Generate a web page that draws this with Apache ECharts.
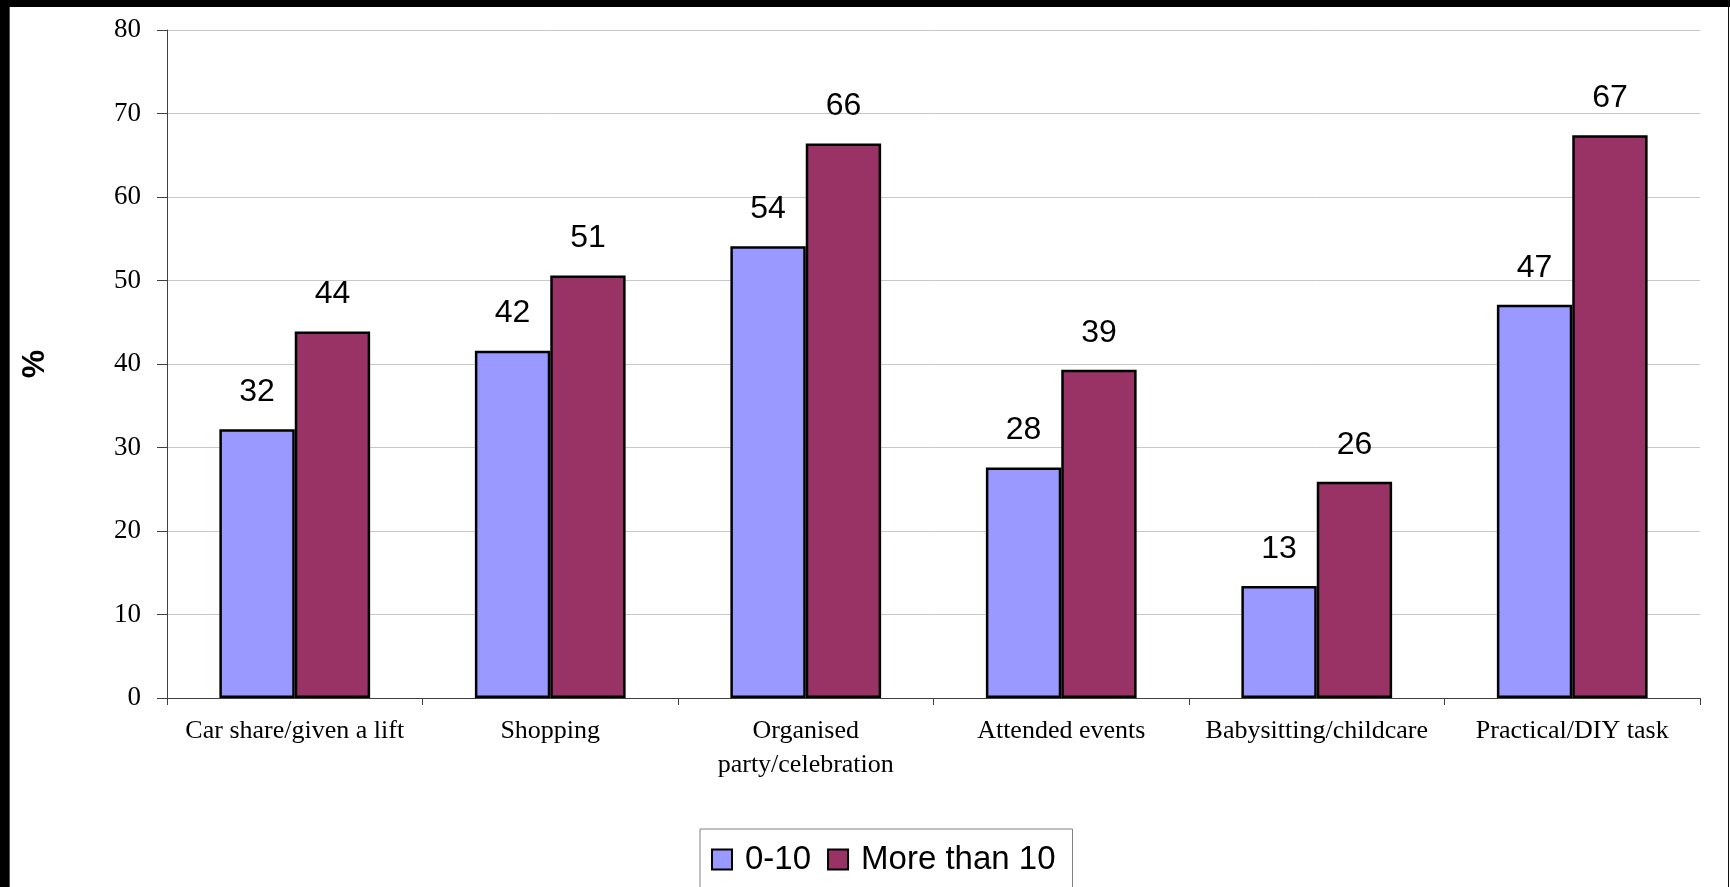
<!DOCTYPE html>
<html>
<head>
<meta charset="utf-8">
<script src="https://cdn.jsdelivr.net/npm/echarts@6/dist/echarts.min.js"></script>
<style>
  html, body { margin: 0; padding: 0; background: #ffffff; }
  #chart { position: absolute; left: 0; top: 0; width: 1730px; height: 887px; }
  .frame { position: absolute; pointer-events: none; }
</style>
</head>
<body>
<div id="chart"></div>
<div class="frame" style="left:0;top:0;width:9px;height:887px;background:#000;"></div>
<div class="frame" style="left:9px;top:0;width:1px;height:887px;background:#555;"></div>
<div class="frame" style="left:0;top:0;width:1730px;height:7px;background:#000;"></div>
<div class="frame" style="left:1728px;top:0;width:1px;height:887px;background:#111;"></div>
<script>
const categories = ['Car share/given a lift', 'Shopping', 'Organised party/celebration', 'Attended events', 'Babysitting/childcare', 'Practical/DIY task'];
const seriesNames = ['0-10', 'More than 10'];
const values0to10 = [32.2, 41.6, 54.1, 27.6, 13.4, 47.1];
const valuesMoreThan10 = [43.9, 50.6, 66.4, 39.3, 25.9, 67.4];
const yTicks = [0, 10, 20, 30, 40, 50, 60, 70, 80];

const chart = echarts.init(document.getElementById('chart'), null, { renderer: 'canvas' });

const labelStyle = {
  show: true,
  position: 'top',
  distance: 21,
  color: '#000',
  fontFamily: 'Liberation Sans, Arial, sans-serif',
  fontSize: 32,
  formatter: p => String(Math.round(p.value))
};

chart.setOption({
  backgroundColor: '#ffffff',
  animation: false,
  grid: { left: 167, right: 30, top: 30, bottom: 189, containLabel: false },
  legend: {
    data: seriesNames,
    left: 700,
    top: 829,
    orient: 'horizontal',
    padding: [14, 17, 40, 11],
    itemWidth: 20,
    itemHeight: 20,
    itemGap: 16,
    borderColor: '#808080',
    borderWidth: 1,
    icon: 'rect',
    textStyle: {
      fontFamily: 'Liberation Sans, Arial, sans-serif',
      fontSize: 33,
      color: '#000',
      padding: [0, 0, 0, 8]
    }
  },
  xAxis: {
    type: 'category',
    data: categories,
    axisLine: { show: true, lineStyle: { color: '#404040', width: 1 } },
    axisTick: { show: true, length: 7, lineStyle: { color: '#404040' } },
    axisLabel: {
      interval: 0,
      margin: 16,
      color: '#000',
      fontFamily: 'Liberation Serif, Times New Roman, serif',
      fontSize: 26,
      lineHeight: 34,
      formatter: v => (v.length > 24 ? v.replace(' ', '\n') : v)
    },
    splitLine: { show: false }
  },
  yAxis: {
    type: 'value',
    min: yTicks[0],
    max: yTicks[yTicks.length - 1],
    interval: 10,
    name: '%',
    nameLocation: 'middle',
    nameRotate: 90,
    nameGap: 116,
    nameTextStyle: {
      fontFamily: 'Liberation Sans, Arial, sans-serif',
      fontSize: 32,
      fontWeight: 'bold',
      color: '#000'
    },
    axisLine: { show: true, lineStyle: { color: '#404040', width: 1 } },
    axisTick: { show: true, inside: false, length: 10, lineStyle: { color: '#404040' } },
    axisLabel: {
      margin: 26,
      color: '#000',
      fontFamily: 'Liberation Serif, Times New Roman, serif',
      fontSize: 27
    },
    splitLine: { show: true, lineStyle: { color: '#c8c8c8', width: 1 } }
  },
  series: [
    {
      name: seriesNames[0],
      type: 'bar',
      data: values0to10,
      barGap: '0%',
      barCategoryGap: '41%',
      itemStyle: { color: '#9999ff', borderColor: '#000', borderWidth: 2.5 },
      label: labelStyle
    },
    {
      name: seriesNames[1],
      type: 'bar',
      data: valuesMoreThan10,
      barGap: '0%',
      barCategoryGap: '41%',
      itemStyle: { color: '#993366', borderColor: '#000', borderWidth: 2.5 },
      label: labelStyle
    }
  ]
});
</script>
</body>
</html>
